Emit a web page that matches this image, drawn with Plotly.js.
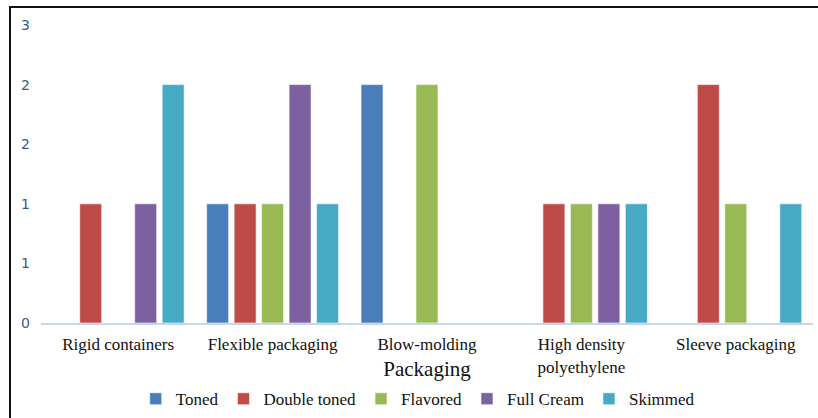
<!DOCTYPE html>
<html>
<head>
<meta charset="utf-8">
<script src="https://cdn.plot.ly/plotly-3.0.1.min.js"></script>
<style>
html,body{margin:0;padding:0;background:#fff;}
#frame{position:absolute;left:0;top:0;width:818px;height:418px;}
#border{position:absolute;left:9px;top:6px;width:809px;height:412px;border-top:2px solid #111;border-left:2px solid #111;pointer-events:none;z-index:5;}
#chart{position:absolute;left:0;top:0;width:818px;height:418px;}
</style>
</head>
<body>
<div id="frame">
<div id="chart"></div>
<div id="border"></div>
</div>
<script>
const categories = ["Rigid containers", "Flexible packaging", "Blow-molding", "High density<br>polyethylene", "Sleeve packaging"];
const toned = [0, 1, 2, 0, 0];
const doubleToned = [1, 1, 0, 1, 2];
const flavored = [0, 1, 2, 1, 1];
const fullCream = [1, 2, 0, 1, 0];
const skimmed = [2, 1, 0, 1, 1];
const yTickVals = [0, 0.5, 1, 1.5, 2, 2.5];
const yTickText = ["0", "1", "1", "2", "2", "3"];

const seriesNames = ["Toned", "Double toned", "Flavored", "Full Cream", "Skimmed"];
const seriesData = [toned, doubleToned, flavored, fullCream, skimmed];
const colors = ["#4a7ebb", "#be4b48", "#98b954", "#7d60a0", "#46aac5"];

const traces = seriesNames.map((n, i) => ({
  type: "bar",
  name: n,
  x: categories,
  y: seriesData[i],
  marker: {color: colors[i], line: {color: "rgba(255,255,255,0.6)", width: 1}},
  hoverinfo: "x+y+name"
}));

const serif = "Liberation Serif, Times New Roman, serif";
const layout = {
  width: 818, height: 418,
  margin: {l: 41, r: 5, t: 25, b: 95},
  paper_bgcolor: "#fff", plot_bgcolor: "#fff",
  barmode: "group",
  bargap: 0.11,
  bargroupgap: 0.2,
  font: {family: serif, color: "#000"},
  xaxis: {
    type: "category",
    automargin: false,
    showgrid: false, zeroline: false,
    showline: true, linecolor: "#c6d7ec", linewidth: 2,
    ticks: "", ticklabelstandoff: 5,
    tickfont: {size: 17, family: serif, color: "#111"},
    title: {text: "Packaging", font: {size: 21, family: serif, color: "#111"}, standoff: 7}
  },
  yaxis: {
    automargin: false,
    range: [0, 2.5],
    tickvals: yTickVals, ticktext: yTickText,
    showgrid: false, zeroline: false, showline: false,
    ticks: "", ticklabelstandoff: 10,
    tickfont: {size: 14, family: "DejaVu Sans, sans-serif", color: "#3a5a8c"}
  },
  legend: {
    orientation: "h", x: 0.488, xanchor: "center",
    yref: "container", y: 0.045, yanchor: "middle",
    font: {size: 17, family: serif, color: "#111"},
    itemwidth: 30, tracegroupgap: 0
  },
  showlegend: true
};

Plotly.newPlot("chart", traces, layout, {displayModeBar: false, staticPlot: true});
</script>
</body>
</html>
